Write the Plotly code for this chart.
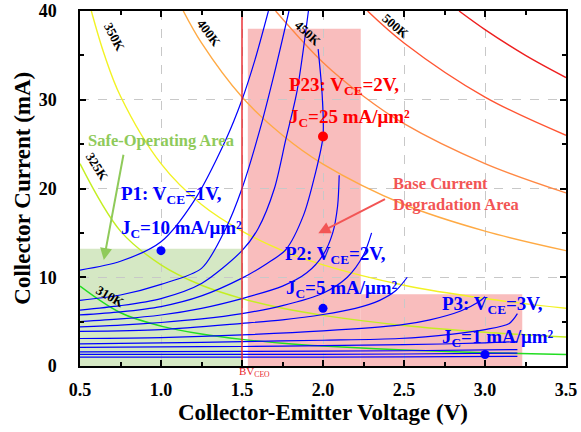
import plotly.graph_objects as go

# ---------------- data ----------------
# Blue Ic-Vce characteristics (V in volts, I in mA)
curve_v = [
    [0.5, 0.75, 1.0, 1.2, 1.4, 1.5, 1.58, 1.663],
    [0.5, 0.75, 1.0, 1.25, 1.4, 1.5, 1.61, 1.70, 1.79],
    [0.5, 0.75, 1.0, 1.25, 1.5, 1.6, 1.7, 1.77, 1.84, 1.91],
    [0.5, 0.75, 1.0, 1.25, 1.5, 1.65, 1.77, 1.88, 1.95, 2.0, 1.995, 1.97],
    [0.5, 0.75, 1.0, 1.25, 1.5, 1.75, 1.9, 2.0, 2.06, 2.09, 2.10],
    [0.5, 0.75, 1.0, 1.25, 1.5, 1.75, 2.0, 2.15, 2.25, 2.30],
    [0.5, 1.0, 1.5, 1.75, 2.0, 2.2, 2.35, 2.45, 2.52],
    [0.5, 1.0, 1.5, 2.0, 2.47, 2.66, 2.85, 2.96, 3.0],
    [0.5, 1.0, 1.5, 2.0, 2.47, 2.8, 3.0, 3.15, 3.2],
    [0.5, 1.0, 1.5, 2.0, 2.5, 3.0, 3.2],
    [0.5, 1.5, 2.5, 3.2],
    [0.5, 1.5, 2.5, 3.2],
    [0.5, 1.5, 2.5, 3.2],
]
curve_i = [
    [10.8, 11.8, 14.0, 18.5, 25.5, 30.0, 34.5, 40.0],
    [7.4, 8.0, 9.2, 11.0, 15.5, 20.0, 26.6, 33.0, 40.0],
    [6.3, 6.8, 7.6, 9.3, 13.0, 15.5, 20.0, 25.5, 31.0, 40.0],
    [5.75, 6.1, 6.7, 7.9, 9.9, 11.5, 13.1, 17.0, 21.5, 25.85, 30.5, 35.7],
    [5.0, 5.3, 5.75, 6.5, 7.6, 9.0, 10.5, 12.5, 15.0, 18.0, 21.5],
    [4.4, 4.6, 4.9, 5.3, 5.9, 6.8, 8.2, 10.0, 12.5, 15.0],
    [3.9, 4.1, 4.8, 5.2, 5.8, 6.5, 7.4, 8.5, 10.0],
    [3.1, 3.2, 3.5, 3.95, 4.6, 5.2, 6.2, 7.2, 7.8],
    [2.5, 2.6, 2.75, 2.9, 3.1, 3.6, 4.1, 4.8, 5.9],
    [2.1, 2.15, 2.2, 2.3, 2.4, 2.6, 2.75],
    [1.6, 1.65, 1.72, 1.85],
    [1.3, 1.3, 1.35, 1.45],
    [1.0, 1.0, 1.02, 1.08],
]

# Isotherms
iso_names = ["310K", "325K", "350K", "400K", "450K", "500K", "550K"]
iso_colors = ["#22dd22", "#c4ee22", "#f2f224", "#ffaa44", "#ff8844", "#ff5533", "#ee1f1f"]
iso_v = [
    [0.5, 0.75, 1.0, 1.25, 1.5, 1.75, 2.0, 2.5, 3.0, 3.5],
    [0.5, 0.75, 1.0, 1.25, 1.5, 1.75, 2.0, 2.5, 3.0, 3.5],
    [0.57, 0.65, 0.75, 1.0, 1.25, 1.5, 1.75, 2.0, 2.5, 3.0, 3.5],
    [1.1375, 1.25, 1.5, 1.75, 2.0, 2.5, 3.0, 3.5],
    [1.7075, 2.0, 2.25, 2.5, 3.0, 3.5],
    [2.275, 2.5, 3.0, 3.5],
    [2.84, 3.0, 3.25, 3.5],
]
iso_i = [
    [9.0, 6.0, 4.5, 3.6, 3.0, 2.57, 2.25, 1.8, 1.5, 1.29],
    [22.8, 15.2, 11.4, 9.1, 7.6, 6.5, 5.7, 4.56, 3.8, 3.26],
    [40.0, 35.1, 30.4, 22.8, 18.2, 15.2, 13.0, 11.4, 9.1, 7.6, 6.5],
    [40.0, 36.4, 30.3, 26.0, 22.75, 18.2, 15.2, 13.0],
    [40.0, 34.2, 30.4, 27.3, 22.8, 19.5],
    [40.0, 36.4, 30.3, 26.0],
    [40.0, 37.9, 35.0, 32.5],
]
iso_label_x = [0.686, 0.61, 0.714, 1.30, 1.91, 2.45]
iso_label_y = [7.8, 22.4, 37.0, 37.5, 37.5, 38.2]
iso_label_angle = [30, 58, 62, 53, 43, 40]

# Operating points
pt_v = [1.0, 2.0, 3.0]
pt_i = [13.0, 6.5, 1.3]
p23_v = [2.0]
p23_i = [25.85]

x_ticks = [0.5, 1.0, 1.5, 2.0, 2.5, 3.0, 3.5]
x_ticktext = ["0.5", "1.0", "1.5", "2.0", "2.5", "3.0", "3.5"]
y_ticks = [0, 10, 20, 30, 40]
bv_ceo = 1.5

FONT = "Liberation Serif, Times New Roman, serif"
BLUE = "#0000ff"
RED = "#ff0000"
SALMON = "#f25555"
LGREEN = "#8fca5a"

fig = go.Figure()

# isotherms
for name, col, xv, yv in zip(iso_names, iso_colors, iso_v, iso_i):
    fig.add_trace(go.Scatter(x=xv, y=yv, mode="lines", name=name,
                             line=dict(color=col, width=1.4, shape="spline", smoothing=1.0),
                             showlegend=False, hoverinfo="skip"))

# blue characteristics
for xv, yv in zip(curve_v, curve_i):
    fig.add_trace(go.Scatter(x=xv, y=yv, mode="lines",
                             line=dict(color=BLUE, width=1.2, shape="spline", smoothing=0.8),
                             showlegend=False, hoverinfo="skip"))

# BVceo line
fig.add_trace(go.Scatter(x=[bv_ceo, bv_ceo], y=[0, 40], mode="lines",
                         line=dict(color="#e8242a", width=1.4), showlegend=False))

# points
fig.add_trace(go.Scatter(x=pt_v, y=pt_i, mode="markers",
                         marker=dict(color=BLUE, size=9), showlegend=False, cliponaxis=False))
fig.add_trace(go.Scatter(x=p23_v, y=p23_i, mode="markers",
                         marker=dict(color=RED, size=10), showlegend=False))

# areas
fig.add_shape(type="rect", x0=0.5, x1=1.5, y0=-0.3, y1=13.2, layer="below",
              line=dict(width=0), fillcolor="#d5e8c4")
fig.add_shape(type="rect", x0=1.536, x1=2.233, y0=-0.3, y1=38.0, layer="below",
              line=dict(width=0), fillcolor="#f9bdbd")
fig.add_shape(type="rect", x0=2.233, x1=3.23, y0=-0.3, y1=8.08, layer="below",
              line=dict(width=0), fillcolor="#f9bdbd")

ann = []
# isotherm labels
for name, ax_, ay_, ang in zip(iso_names, iso_label_x, iso_label_y, iso_label_angle):
    ann.append(dict(x=ax_, y=ay_, text=name, showarrow=False, textangle=ang,
                    font=dict(family=FONT, size=13, color="black", weight="bold")))

def label(x, y, text, color, size=19):
    return dict(x=x, y=y, text=text, showarrow=False, xanchor="left", yanchor="middle",
                font=dict(family=FONT, size=size, color=color, weight="bold"))

ann += [
    label(0.74, 19.3, "P1: V<sub>CE</sub>=1V,", BLUE),
    label(0.74, 15.4, "J<sub>C</sub>=10 mA/μm²", BLUE),
    label(1.75, 12.5, "P2: V<sub>CE</sub>=2V,", BLUE),
    label(1.76, 8.7, "J<sub>C</sub>=5 mA/μm²", BLUE),
    label(2.72, 6.9, "P3: V<sub>CE</sub>=3V,", BLUE),
    label(2.72, 3.1, "J<sub>C</sub>=1 mA/μm²", BLUE),
    label(1.78, 31.6, "P23: V<sub>CE</sub>=2V,", RED),
    label(1.78, 28.0, "J<sub>C</sub>=25 mA/μm²", RED),
    label(0.535, 25.4, "Safe-Operating Area", LGREEN, 16.5),
    label(2.42, 20.6, "Base Current", SALMON, 16.5),
    label(2.42, 18.2, "Degradation Area", SALMON, 16.5),
]
# arrows
ann.append(dict(x=0.647, y=11.94, ax=0.770, ay=23.97, xref="x", yref="y", axref="x", ayref="y",
                showarrow=True, arrowhead=2, arrowsize=1.2, arrowwidth=2, arrowcolor=LGREEN, text=""))
ann.append(dict(x=1.971, y=14.95, ax=2.392, ay=18.9, xref="x", yref="y", axref="x", ayref="y",
                showarrow=True, arrowhead=2, arrowsize=1.2, arrowwidth=2, arrowcolor=SALMON, text=""))
# BVceo label
ann.append(dict(x=1.47, y=0, xanchor="left", yanchor="top", yshift=3,
                text="BV<sub>CEO</sub>", showarrow=False,
                font=dict(family=FONT, size=11, color="#e8242a")))
# axis titles
ann.append(dict(xref="paper", yref="paper", x=0.5, y=-0.13, xanchor="center", yanchor="middle",
                text="Collector-Emitter Voltage (V)", showarrow=False,
                font=dict(family=FONT, size=23, color="black", weight="bold")))
ann.append(dict(xref="paper", yref="paper", x=-0.119, y=0.5, xanchor="center", yanchor="middle",
                text="Collector Current (mA)", showarrow=False, textangle=-90,
                font=dict(family=FONT, size=23, color="black", weight="bold")))

fig.update_layout(
    width=581, height=432,
    margin=dict(l=80, r=15, t=11, b=66),
    paper_bgcolor="white", plot_bgcolor="white",
    font=dict(family=FONT, color="black"),
    annotations=ann,
    showlegend=False,
)
fig.update_xaxes(
    range=[0.5, 3.5], tickvals=x_ticks, ticktext=x_ticktext, automargin=False,
    ticks="inside", ticklen=6, tickwidth=1.5, tickcolor="black", ticklabelstandoff=7,
    minor=dict(dtick=0.25, tick0=0.5, ticks="inside", ticklen=4, tickcolor="black", showgrid=False),
    showline=True, linewidth=1.5, linecolor="black", mirror="ticks",
    showgrid=True, gridcolor="#c8c8c8", griddash="dash", gridwidth=1, zeroline=False,
    tickfont=dict(family=FONT, size=18, weight="bold"),
)
fig.update_yaxes(
    range=[0, 40], tickvals=y_ticks, automargin=False,
    ticks="inside", ticklen=6, tickwidth=1.5, tickcolor="black", ticklabelstandoff=18,
    minor=dict(dtick=5, tick0=0, ticks="inside", ticklen=4, tickcolor="black", showgrid=False),
    showline=True, linewidth=1.5, linecolor="black", mirror="ticks",
    showgrid=True, gridcolor="#c8c8c8", griddash="dash", gridwidth=1, zeroline=False,
    tickfont=dict(family=FONT, size=18, weight="bold"),
)

fig.write_html("out.html", config={"displayModeBar": False},
               post_script="document.body.style.margin='0';")
